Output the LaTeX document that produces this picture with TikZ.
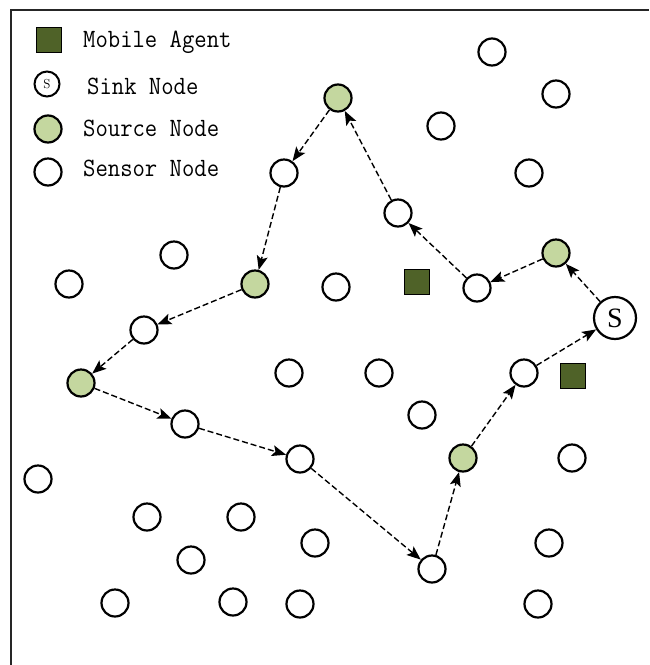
\documentclass[tikz,border=0pt]{standalone}
\usepackage{fontspec}
\newfontfamily\sinkfont{Liberation Serif}
\usetikzlibrary{arrows.meta}
\definecolor{srcgreen}{HTML}{C4D79F}
\definecolor{agentgreen}{HTML}{4F6228}
\newcommand{\legtall}[1]{\scalebox{1}[1.1]{#1}}
\tikzset{
  sensor/.style={circle, draw=black, line width=2.2pt, minimum size=27pt, inner sep=0pt, fill=white},
  source/.style={sensor, fill=srcgreen},
  agent/.style={rectangle, draw=black, line width=1.8pt, fill=agentgreen, minimum size=25pt, inner sep=0pt},
  sinknode/.style={circle, draw=black, line width=2.2pt, minimum size=42pt, inner sep=0pt, fill=white, font=\sinkfont\fontsize{28}{30}\selectfont},
  hop/.style={-{Stealth[length=14pt,width=11pt,inset=3pt]}, dash pattern=on 6pt off 3pt, line width=1.4pt},
  legtext/.style={anchor=base west, inner sep=0pt, font=\ttfamily\fontsize{24}{28}\selectfont},
  frame/.style={line width=2.2pt, draw=black!85}
}
\begin{document}
\begin{tikzpicture}[x=1pt,y=-1pt]
\useasboundingbox (0,0) rectangle (649,665);
\fill[white] (0,0) rectangle (649,665);
\coordinate (fb) at (11,665);
\coordinate (fc) at (11,10);
\coordinate (fr) at (649,10);
\draw[frame] (fb) -- (fc) -- (fr);

% legend
\node[agent] (la) at (49,40) {};
\node[legtext] (ta) at (83,47) {\legtall{Mobile Agent}};
\node[sensor, minimum size=25pt, line width=2pt, font=\fontsize{13}{14}\selectfont] (ls) at (47,84) {S};
\node[legtext] (ts) at (87,94) {\legtall{Sink Node}};
\node[source] (lg) at (48,129) {};
\node[legtext] (tg) at (83,136.5) {\legtall{Source Node}};
\node[sensor] (lw) at (48,172) {};
\node[legtext] (tw) at (83,176.5) {\legtall{Sensor Node}};

% sensor nodes
\node[sensor] (s1) at (492,52) {};
\node[sensor] (s2) at (556,94) {};
\node[sensor] (s3) at (441,126) {};
\node[sensor] (s4) at (529,173) {};
\node[sensor] (s5) at (284,173) {};
\node[sensor] (s6) at (398,213) {};
\node[sensor] (s7) at (477,288) {};
\node[sensor] (s8) at (336,287) {};
\node[sensor] (s9) at (174,255) {};
\node[sensor] (s10) at (69,284) {};
\node[sensor] (s11) at (144,330) {};
\node[sensor] (s12) at (185,424) {};
\node[sensor] (s13) at (289,373) {};
\node[sensor] (s14) at (379,373) {};
\node[sensor] (s15) at (422,415) {};
\node[sensor] (s16) at (524,373) {};
\node[sensor] (s17) at (572,458) {};
\node[sensor] (s18) at (38,479) {};
\node[sensor] (s19) at (147,517) {};
\node[sensor] (s20) at (241,517) {};
\node[sensor] (s21) at (300,459) {};
\node[sensor] (s22) at (315,543) {};
\node[sensor] (s23) at (191,560) {};
\node[sensor] (s24) at (115,603) {};
\node[sensor] (s25) at (233,602) {};
\node[sensor] (s26) at (300,604) {};
\node[sensor] (s27) at (432,569) {};
\node[sensor] (s28) at (549,543) {};
\node[sensor] (s29) at (538,604) {};

% source nodes
\node[source] (g1) at (338,98) {};
\node[source] (g2) at (556,253) {};
\node[source] (g3) at (255,284) {};
\node[source] (g4) at (81,383) {};
\node[source] (g5) at (463,458) {};

% mobile agents
\node[agent] (a1) at (417,282) {};
\node[agent] (a2) at (573,376) {};

% sink
\node[sinknode] (sink) at (615,318) {S};

% itinerary
\draw[hop] (sink) -- (g2);
\draw[hop] (g2) -- (s7);
\draw[hop] (s7) -- (s6);
\draw[hop] (s6) -- (g1);
\draw[hop] (g1) -- (s5);
\draw[hop] (s5) -- (g3);
\draw[hop] (g3) -- (s11);
\draw[hop] (s11) -- (g4);
\draw[hop] (g4) -- (s12);
\draw[hop] (s12) -- (s21);
\draw[hop] (s21) -- (s27);
\draw[hop] (s27) -- (g5);
\draw[hop] (g5) -- (s16);
\draw[hop] (s16) -- (sink);
\end{tikzpicture}
\end{document}
